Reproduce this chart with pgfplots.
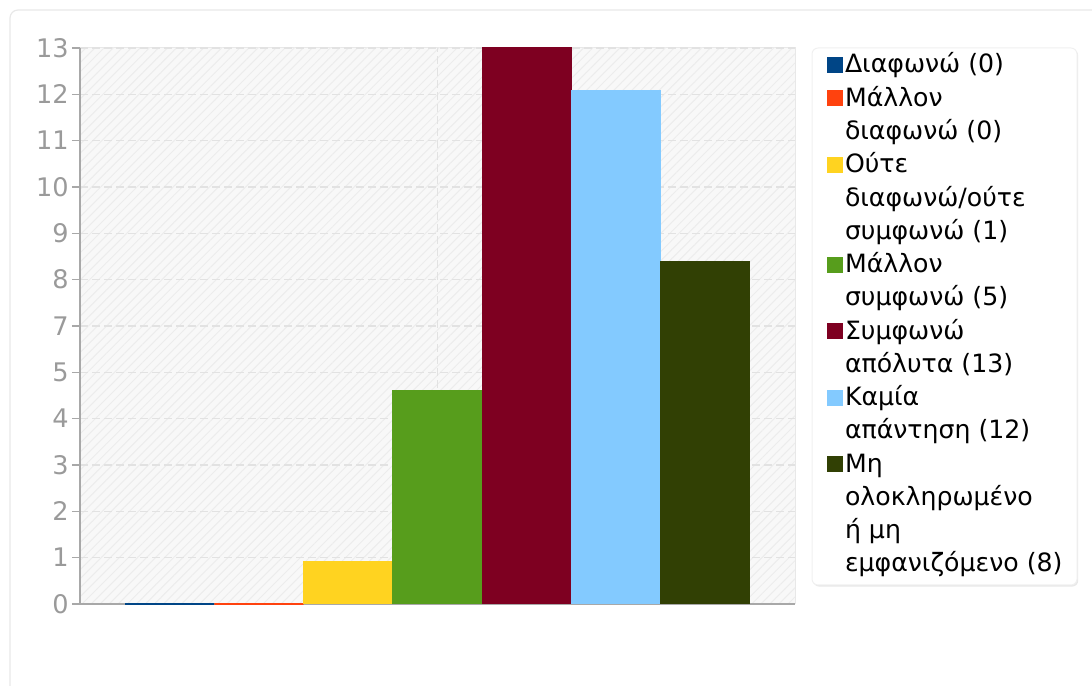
\documentclass[border=0pt]{standalone}
\usepackage{fontspec}
\setmainfont{DejaVu Sans}
\usepackage{pgfplots}
\pgfplotsset{compat=1.18}
\usetikzlibrary{patterns.meta,shadows}
\definecolor{c1}{HTML}{004586}
\definecolor{c2}{HTML}{FF420E}
\definecolor{c3}{HTML}{FFD320}
\definecolor{c4}{HTML}{579D1C}
\definecolor{c5}{HTML}{7E0021}
\definecolor{c6}{HTML}{83CAFF}
\definecolor{c7}{HTML}{314004}
\definecolor{ticktext}{HTML}{9A9A9A}
\definecolor{axisline}{HTML}{A8A8A8}
\definecolor{gridcol}{HTML}{E2E2E2}
\definecolor{bgcol}{HTML}{F8F8F8}
\definecolor{hatchcol}{HTML}{ECECEC}
\definecolor{panelcol}{HTML}{E8E8E8}
\pgfplotsset{blank legend/.style={legend image code/.code={}}}
\begin{document}
\begin{tikzpicture}
\useasboundingbox (0,0) rectangle (546bp,343bp);
% outer panel
\draw[panelcol, line width=0.6bp, rounded corners=4bp] (5bp,-10bp) rectangle (560bp,338bp);
% legend frame
\draw[gray!12, fill=white, line width=0.5bp, rounded corners=3bp,
      drop shadow={shadow xshift=0.6bp, shadow yshift=-0.8bp, opacity=0.18}]
      (406bp,50.5bp) rectangle (538.5bp,319bp);
\begin{axis}[
  scale only axis,
  width=357.5bp, height=278bp,
  anchor=south west, at={(40bp,41bp)},
  clip=false,
  ybar=0pt,
  bar width=0.12487,
  xmin=-0.5, xmax=0.5,
  ymin=0, ymax=13,
  xtick={0}, xticklabels={},
  xtick style={draw=none},
  ytick={0,1.0833333,2.1666667,3.25,4.3333333,5.4166667,6.5,7.5833333,8.6666667,9.75,10.8333333,11.9166667,13},
  yticklabels={0,1,2,3,4,5,7,8,9,10,11,12,13},
  /pgf/number format/assume math mode=true,
  axis x line*=bottom, axis y line*=left,
  axis line style={draw=axisline, line width=0.7bp},
  ytick align=outside,
  major tick length=4bp,
  ytick style={draw=axisline, line width=0.7bp},
  yticklabel style={font=\fontsize{12.8bp}{14bp}\selectfont, text=ticktext, inner sep=0pt, xshift=-1.5bp},
  xmajorgrids, ymajorgrids,
  major grid style={draw=gridcol, line width=0.6bp, dash pattern=on 4bp off 2bp},
  axis background/.style={fill=bgcol, draw=gray!18, line width=0.5bp,
     postaction={pattern={Lines[angle=45,distance=3.2bp,line width=0.5bp]}, pattern color=hatchcol}},
  every axis plot/.append style={line width=0.5bp,
     legend image code/.code={\fill[##1,draw=none] (0bp,0bp) rectangle (8bp,8bp);}},
  legend style={draw=none, fill=none, inner sep=0pt, outer sep=0pt,
     row sep=0pt, column sep=1bp,
     at={(1.04476,0.99676)}, anchor=north west,
     nodes={inner sep=0pt, anchor=base west, text=black,
            text height=11.6bp, text depth=5.03bp,
            font=\fontsize{12.6bp}{16.63bp}\selectfont}},
]
\addplot[fill=c1, draw=c1, line width=1bp] coordinates {(0,0)};
\addplot[fill=c2, draw=c2, line width=1bp] coordinates {(0,0)};
\addlegendimage{blank legend}
\addplot[fill=c3, draw=c3] coordinates {(0,1)};
\addlegendimage{blank legend}
\addlegendimage{blank legend}
\addplot[fill=c4, draw=c4] coordinates {(0,5)};
\addlegendimage{blank legend}
\addplot[fill=c5, draw=c5] coordinates {(0,13)};
\addlegendimage{blank legend}
\addplot[fill=c6, draw=c6] coordinates {(0,12)};
\addlegendimage{blank legend}
\addplot[fill=c7, draw=c7] coordinates {(0,8)};
\addlegendimage{blank legend}
\addlegendimage{blank legend}
\addlegendimage{blank legend}
\legend{Διαφωνώ (0), Μάλλον, διαφωνώ (0), Ούτε, διαφωνώ/ούτε, συμφωνώ (1), Μάλλον, συμφωνώ (5), Συμφωνώ, απόλυτα (13), Καμία, απάντηση (12), Μη, ολοκληρωμένο, ή μη, εμφανιζόμενο (8)}
\end{axis}
\end{tikzpicture}
\end{document}
